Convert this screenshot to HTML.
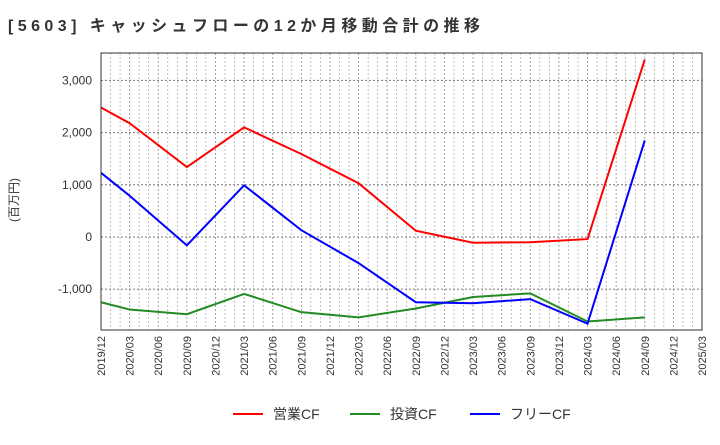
<!DOCTYPE html>
<html><head><meta charset="utf-8"><style>
body{margin:0;background:#fff;font-family:"Liberation Sans","Noto Sans CJK JP",sans-serif;}
svg text{font-family:"Liberation Sans","Noto Sans CJK JP",sans-serif;}
</style></head><body>
<svg width="720" height="440">
<text x="8" y="31" font-size="16" font-weight="bold" fill="#333" textLength="472" lengthAdjust="spacing">[5603]  キャッシュフローの12か月移動合計の推移</text>
<text transform="translate(18,200) rotate(-90)" font-size="12" text-anchor="middle" fill="#333">(百万円)</text>
<g id="grid"></g><g id="axes"></g><g id="series"></g>
<rect x="101" y="53" width="601" height="277" fill="none" stroke="#333"/>
<g>
<line x1="233" y1="414" x2="263" y2="414" stroke="#f00" stroke-width="2"/><text x="273" y="419" font-size="14" fill="#333">営業CF</text>
<line x1="350" y1="414" x2="380" y2="414" stroke="#228b22" stroke-width="2"/><text x="390" y="419" font-size="14" fill="#333">投資CF</text>
<line x1="470" y1="414" x2="500" y2="414" stroke="#00f" stroke-width="2"/><text x="510" y="419" font-size="14" fill="#333">フリーCF</text>
</g>
</svg>
<script>
const months=[0,3,9,15,21,27,33,39,45,51,57];
const operating=[2480,2180,1340,2100,1590,1030,120,-110,-100,-40,3400];
const investing=[-1250,-1390,-1480,-1090,-1440,-1540,-1370,-1150,-1080,-1620,-1540];
const freeCF=[1230,790,-160,990,130,-500,-1250,-1270,-1190,-1660,1850];
const yTicks=[-1000,0,1000,2000,3000];
const xLabels=["2019/12","2020/03","2020/06","2020/09","2020/12","2021/03","2021/06","2021/09","2021/12","2022/03","2022/06","2022/09","2022/12","2023/03","2023/06","2023/09","2023/12","2024/03","2024/06","2024/09","2024/12","2025/03"];
const NS="http://www.w3.org/2000/svg";
const X0=101,X1=702,Y0=53,Y1=330,MMAX=63,VMIN=-1782,VMAX=3525;
const xs=m=>X0+(X1-X0)*m/MMAX;
const ys=v=>Y1-(Y1-Y0)*(v-VMIN)/(VMAX-VMIN);
function mk(t,a,p){const e=document.createElementNS(NS,t);for(const k in a)e.setAttribute(k,a[k]);p.appendChild(e);return e;}
const grid=document.getElementById('grid'),axes=document.getElementById('axes'),ser=document.getElementById('series');
for(let m=1;m<MMAX;m++){const l=mk('line',{x1:xs(m),x2:xs(m),y1:Y0,y2:Y1,stroke:'#999','stroke-dasharray':'2,2','stroke-width':m%3?0.6:0.9},grid);

}
yTicks.forEach(v=>{const l=mk('line',{x1:X0,x2:X1,y1:ys(v),y2:ys(v),stroke:'#777','stroke-dasharray':'2,2'},grid);


const t=mk('text',{x:X0-9,y:ys(v)+4,'text-anchor':'end','font-size':12,fill:'#333'},axes);t.textContent=v.toLocaleString('en-US');

});
xLabels.forEach((s,i)=>{const x=xs(i*3);const t=mk('text',{transform:`translate(${x+4},${Y1+6}) rotate(-90)`,'text-anchor':'end','font-size':11,fill:'#333'},axes);t.textContent=s;

});
[[operating,'#f00','operating-cf-line'],[investing,'#228b22','investing-cf-line'],[freeCF,'#00f','free-cf-line']].forEach(([d,c,n])=>{
const p=mk('polyline',{points:d.map((v,i)=>xs(months[i])+','+ys(v)).join(' '),fill:'none',stroke:c,'stroke-width':2},ser);

});
</script>
</body></html>
